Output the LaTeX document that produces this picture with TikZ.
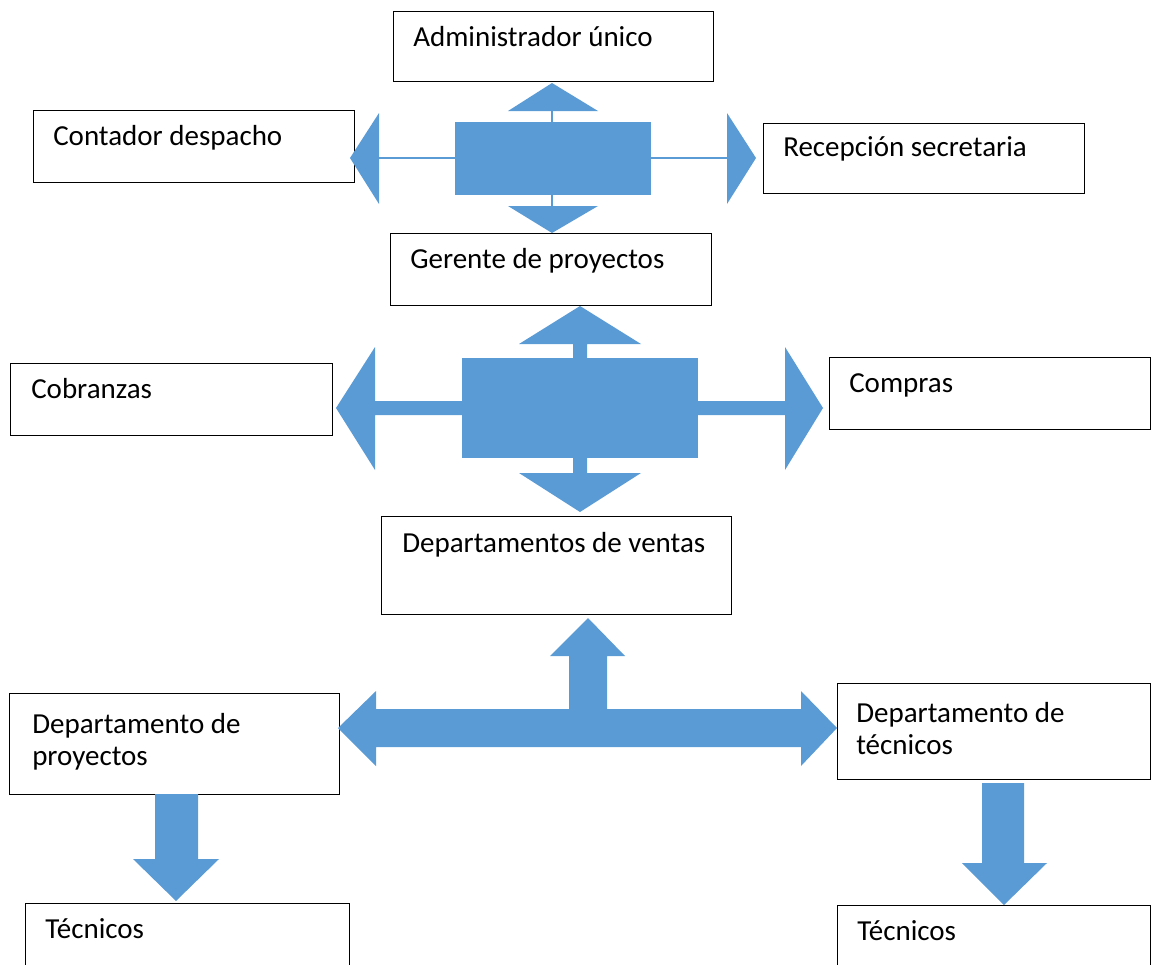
\documentclass[tikz,border=0pt]{standalone}
\usepackage{fontspec}
\setmainfont{Carlito}
\definecolor{hubblue}{RGB}{91,155,213}
\newcommand{\pxl}{0.75pt}
\tikzset{ ob/.style = { rectangle % org box
        , draw
        , line width = 1.1pt
        , inner sep = 0pt
        , anchor = north west
        }
        , ot/.style = { rectangle % box text
        , inner sep = 0pt
        , anchor = base west
        , align = left
        , font = \fontsize{21.75}{24}\selectfont
        }
        , hub/.style = { rectangle % blue centre block
        , fill = hubblue
        , inner sep = 0pt
        }
        , blk/.style = { fill = hubblue } % block arrows
        , link/.style = { draw = hubblue, line width = 1.5pt }
        }

\begin{document}
\begin{tikzpicture}[x=0.75pt, y=-0.75pt]
        \useasboundingbox (0,0) rectangle (1153,964);
        \clip (0,0) rectangle (1153,964);

        % boxes
        \node [ob, minimum width=320*\pxl, minimum height=70*\pxl] (admin) at (393,11) {};
        \node [ob, minimum width=321*\pxl, minimum height=72*\pxl] (contador) at (33,110) {};
        \node [ob, minimum width=321*\pxl, minimum height=70*\pxl] (recepcion) at (763,123) {};
        \node [ob, minimum width=321*\pxl, minimum height=72*\pxl] (gerente) at (390,233) {};
        \node [ob, minimum width=322*\pxl, minimum height=72*\pxl] (cobranzas) at (10,363) {};
        \node [ob, minimum width=321*\pxl, minimum height=72*\pxl] (compras) at (829,357) {};
        \node [ob, minimum width=350*\pxl, minimum height=98*\pxl] (ventas) at (381,516) {};
        \node [ob, minimum width=330*\pxl, minimum height=101*\pxl] (dproy) at (9,693) {};
        \node [ob, minimum width=313*\pxl, minimum height=96*\pxl] (dtec) at (837,683) {};
        \node [ob, minimum width=324*\pxl, minimum height=80*\pxl] (tec1) at (25,903) {};
        \node [ob, minimum width=313*\pxl, minimum height=80*\pxl] (tec2) at (837,905) {};

        \node [ot] (admin-t) at (413,46) {Administrador único};
        \node [ot] (contador-t) at (53,145) {Contador despacho};
        \node [ot] (recepcion-t) at (783,156) {Recepción secretaria};
        \node [ot] (gerente-t) at (410,268) {Gerente de proyectos};
        \node [ot] (cobranzas-t) at (31,398) {Cobranzas};
        \node [ot] (compras-t) at (849,392) {Compras};
        \node [ot] (ventas-t) at (402,552) {Departamentos de ventas};
        \node [ot] (dproy-t) at (32,765) {Departamento de\\proyectos}; % base = last line
        \node [ot] (dtec-t) at (856,754) {Departamento de\\técnicos};
        \node [ot] (tec1-t) at (45,938) {Técnicos};
        \node [ot] (tec2-t) at (857,940) {Técnicos};

        % upper hub
        \node [hub, minimum width=196*\pxl, minimum height=73*\pxl] (hubA) at (553,158.5) {};
        \coordinate (hubA-n) at (552,111);
        \coordinate (hubA-s) at (552,206);
        \coordinate (hubA-w) at (379,158);
        \coordinate (hubA-e) at (727,158);
        \draw [link] (hubA.north -| hubA-n) -- (hubA-n);
        \draw [link] (hubA.south -| hubA-s) -- (hubA-s);
        \draw [link] (hubA.west |- hubA-w) -- (hubA-w);
        \draw [link] (hubA.east |- hubA-e) -- (hubA-e);
        \fill [blk] (508,111) -- (598,111) -- (552,83) -- cycle;
        \fill [blk] (508,206) -- (598,206) -- (552,233) -- cycle;
        \fill [blk] (379,113) -- (379,204) -- (350,158) -- cycle;
        \fill [blk] (727,113) -- (727,204) -- (756,158) -- cycle;

        % middle hub
        \node [hub, minimum width=236*\pxl, minimum height=100*\pxl] (hubB) at (580,408) {};
        \fill [blk] (573,358) -- (573,344) -- (519,344) -- (580,306) -- (641,344) -- (587,344) -- (587,358) -- cycle;
        \fill [blk] (573,458) -- (573,473) -- (519,473) -- (580,512) -- (641,473) -- (587,473) -- (587,458) -- cycle;
        \fill [blk] (462,401) -- (375,401) -- (375,347) -- (336,408) -- (375,470) -- (375,415) -- (462,415) -- cycle;
        \fill [blk] (698,401) -- (785,401) -- (785,347) -- (823,408) -- (785,470) -- (785,415) -- (698,415) -- cycle;

        % lower T arrow
        \fill [blk] (338,728) -- (376,691) -- (376,709) -- (569,709) -- (569,656) -- (550,656) -- (588,618)
                -- (625,656) -- (607,656) -- (607,709) -- (801,709) -- (801,691) -- (837,728)
                -- (801,766) -- (801,747) -- (376,747) -- (376,766) -- cycle;

        % down arrows
        \fill [blk] (155,794) -- (198,794) -- (198,859) -- (219,859) -- (176,901) -- (133,859) -- (155,859) -- cycle;
        \fill [blk] (982,783) -- (1024,783) -- (1024,863) -- (1047,863) -- (1004,905) -- (962,863) -- (982,863) -- cycle;
\end{tikzpicture}
\end{document}
